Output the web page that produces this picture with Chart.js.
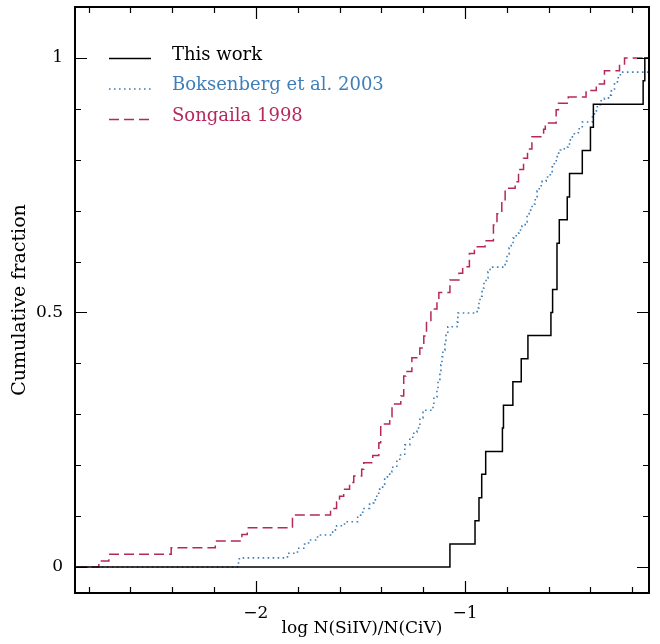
<!DOCTYPE html>
<html lang="en">
<head>
    <meta charset="UTF-8">
    <title>Cumulative fraction of log N(SiIV)/N(CiV)</title>
    <style>
        html, body { margin: 0; padding: 0; background: #fff; }
        #chart-container { width: 660px; height: 644px; }
    </style>
    <script src="https://cdn.jsdelivr.net/npm/chart.js"></script>
</head>
<body>
<div id="chart-container">
    <canvas id="cdfChart" width="660" height="644"></canvas>
</div>
<script>
    // step positions (log N(SiIV)/N(CiV)) and cumulative fraction after each step
    const thisWorkX = [-3, -1.072, -0.952, -0.933, -0.920, -0.901, -0.821, -0.816, -0.771, -0.731, -0.699,
        -0.589, -0.581, -0.560, -0.549, -0.511, -0.500, -0.439, -0.400, -0.386, -0.148, -0.140, 0];
    const thisWorkY = [0, 0.045, 0.091, 0.136, 0.182, 0.227, 0.273, 0.318, 0.364, 0.409, 0.455,
        0.500, 0.545, 0.636, 0.682, 0.727, 0.773, 0.818, 0.864, 0.909, 0.955, 1.000, 1.000];

    const boksenbergX = [-3, -2.089, -2.079, -1.849, -1.801, -1.767, -1.748, -1.705, -1.633, -1.614,
        -1.576, -1.513, -1.489, -1.456, -1.436, -1.422, -1.408, -1.384, -1.360, -1.350,
        -1.326, -1.312, -1.288, -1.264, -1.245, -1.230, -1.216, -1.201, -1.153, -1.149,
        -1.134, -1.129, -1.120, -1.115, -1.110, -1.106, -1.096, -1.091, -1.082, -1.038,
        -1.034, -0.942, -0.933, -0.928, -0.918, -0.909, -0.899, -0.890, -0.880, -0.808,
        -0.799, -0.789, -0.779, -0.770, -0.755, -0.741, -0.727, -0.712, -0.703, -0.693,
        -0.679, -0.664, -0.655, -0.645, -0.631, -0.612, -0.592, -0.583, -0.573, -0.559,
        -0.544, -0.525, -0.506, -0.496, -0.477, -0.458, -0.439, -0.391, -0.381, -0.367,
        -0.353, -0.333, -0.314, -0.300, -0.285, -0.271, -0.257, 0];
    const boksenbergY = [0, 0.008, 0.018, 0.027, 0.037, 0.045, 0.053, 0.063, 0.073, 0.081,
        0.089, 0.102, 0.115, 0.126, 0.132, 0.145, 0.157, 0.177, 0.187, 0.196,
        0.210, 0.220, 0.240, 0.255, 0.265, 0.273, 0.293, 0.308, 0.320, 0.334,
        0.348, 0.367, 0.383, 0.397, 0.413, 0.426, 0.442, 0.458, 0.472, 0.481,
        0.499, 0.509, 0.523, 0.532, 0.548, 0.560, 0.568, 0.580, 0.589, 0.601,
        0.615, 0.627, 0.635, 0.646, 0.656, 0.662, 0.670, 0.678, 0.690, 0.701,
        0.713, 0.725, 0.739, 0.749, 0.758, 0.766, 0.774, 0.786, 0.798, 0.813,
        0.819, 0.825, 0.831, 0.845, 0.853, 0.861, 0.874, 0.884, 0.896, 0.906,
        0.916, 0.921, 0.927, 0.939, 0.949, 0.961, 0.972, 0.972];

    const songailaX = [-3, -2.751, -2.703, -2.405, -2.194, -2.067, -2.041, -1.825, -1.643, -1.614,
        -1.600, -1.580, -1.552, -1.532, -1.494, -1.484, -1.441, -1.412, -1.403, -1.360,
        -1.349, -1.307, -1.293, -1.283, -1.254, -1.216, -1.197, -1.184, -1.163, -1.134,
        -1.125, -1.072, -1.029, -1.011, -0.979, -0.955, -0.904, -0.864, -0.847, -0.824,
        -0.808, -0.760, -0.744, -0.720, -0.701, -0.680, -0.624, -0.616, -0.564, -0.553,
        -0.506, -0.421, -0.372, -0.333, -0.261, -0.237, 0];
    const songailaY = [0, 0.012, 0.025, 0.038, 0.051, 0.064, 0.077, 0.102, 0.115, 0.128,
        0.139, 0.153, 0.166, 0.179, 0.192, 0.205, 0.219, 0.244, 0.281, 0.295,
        0.320, 0.336, 0.375, 0.384, 0.411, 0.430, 0.454, 0.482, 0.507, 0.525,
        0.539, 0.564, 0.577, 0.590, 0.616, 0.629, 0.641, 0.672, 0.694, 0.718,
        0.744, 0.757, 0.781, 0.803, 0.821, 0.845, 0.860, 0.872, 0.898, 0.911,
        0.923, 0.936, 0.949, 0.975, 0.988, 1.000, 1.000];

    const seriesNames = ['This work', 'Boksenberg et al. 2003', 'Songaila 1998'];

    // axis ticks
    const xMajorTicks = [-2, -1];
    const xMinorTicks = [-2.8, -2.6, -2.4, -2.2, -2.0, -1.8, -1.6, -1.4, -1.2, -1.0, -0.8, -0.6, -0.4, -0.2];
    const yMajorTicks = [0, 0.5, 1];
    const yMinorTicks = [0, 0.1, 0.2, 0.3, 0.4, 0.5, 0.6, 0.7, 0.8, 0.9, 1.0];

    const FONT = '"DejaVu Serif", serif';

    function toPoints(xs, ys) {
        return xs.map((x, i) => ({ x: x, y: ys[i] }));
    }

    function fmt(v) {
        return v < 0 ? '\u2212' + Math.abs(v) : String(v);
    }

    // frame with inward ticks on all four sides, plus the legend
    const framePlugin = {
        id: 'frame',
        afterDatasetsDraw(chart) {
            const ctx = chart.ctx;
            const a = chart.chartArea;
            const xs = chart.scales.x, ys = chart.scales.y;
            ctx.save();
            ctx.strokeStyle = '#000';
            ctx.lineWidth = 2;
            ctx.strokeRect(a.left, a.top, a.right - a.left, a.bottom - a.top);
            ctx.lineWidth = 1.2;
            ctx.beginPath();
            xMinorTicks.forEach(v => {
                const px = Math.round(xs.getPixelForValue(v)) + 0.5;
                const len = xMajorTicks.some(m => Math.abs(m - v) < 1e-6) ? 12 : 6;
                ctx.moveTo(px, a.bottom); ctx.lineTo(px, a.bottom - len);
                ctx.moveTo(px, a.top); ctx.lineTo(px, a.top + len);
            });
            yMinorTicks.forEach(v => {
                const py = Math.round(ys.getPixelForValue(v)) + 0.5;
                const len = yMajorTicks.some(m => Math.abs(m - v) < 1e-6) ? 12 : 6;
                ctx.moveTo(a.left, py); ctx.lineTo(a.left + len, py);
                ctx.moveTo(a.right, py); ctx.lineTo(a.right - len, py);
            });
            ctx.stroke();

            // legend
            ctx.font = '18px ' + FONT;
            ctx.textBaseline = 'alphabetic';
            chart.data.datasets.forEach((ds, i) => {
                const y = 58.5 + i * 30.5;
                ctx.beginPath();
                ctx.strokeStyle = ds.borderColor;
                ctx.lineWidth = ds.borderWidth;
                ctx.setLineDash(ds.borderDash || []);
                ctx.moveTo(109, y);
                ctx.lineTo(151, y);
                ctx.stroke();
                ctx.setLineDash([]);
                ctx.fillStyle = ds.borderColor;
                ctx.fillText(ds.label, 172, y + 1);
            });
            ctx.restore();
        }
    };

    const ctx = document.getElementById('cdfChart').getContext('2d');
    const cdfChart = new Chart(ctx, {
        type: 'scatter',
        data: {
            datasets: [
                {
                    label: seriesNames[0],
                    data: toPoints(thisWorkX, thisWorkY),
                    borderColor: '#000000',
                    borderWidth: 1.5,
                    borderDash: [],
                    showLine: true,
                    stepped: true,
                    pointRadius: 0,
                    order: 0
                },
                {
                    label: seriesNames[1],
                    data: toPoints(boksenbergX, boksenbergY),
                    borderColor: '#3f7fb9',
                    borderWidth: 1.6,
                    borderDash: [1.6, 3.4],
                    showLine: true,
                    stepped: true,
                    pointRadius: 0,
                    order: 2
                },
                {
                    label: seriesNames[2],
                    data: toPoints(songailaX, songailaY),
                    borderColor: '#b5285c',
                    borderWidth: 1.5,
                    borderDash: [10, 5],
                    showLine: true,
                    stepped: true,
                    pointRadius: 0,
                    order: 1
                }
            ]
        },
        options: {
            responsive: false,
            maintainAspectRatio: false,
            animation: false,
            layout: { padding: { left: 0, right: 11, top: 7, bottom: 0 } },
            plugins: {
                legend: { display: false },
                tooltip: { enabled: false }
            },
            scales: {
                x: {
                    type: 'linear',
                    min: -2.865,
                    max: -0.12,
                    grid: { display: false },
                    border: { display: false },
                    afterBuildTicks: scale => { scale.ticks = xMajorTicks.map(v => ({ value: v })); },
                    afterFit: scale => {
                        scale.height = 51;
                        scale.paddingLeft = 0;
                        scale.paddingRight = 0;
                    },
                    ticks: {
                        padding: 2,
                        color: '#000',
                        font: { family: FONT, size: 17 },
                        callback: v => fmt(v)
                    },
                    title: {
                        display: true,
                        text: 'log N(SiIV)/N(CiV)',
                        color: '#000',
                        font: { family: FONT, size: 17 },
                        padding: { top: 0, bottom: 5 }
                    }
                },
                y: {
                    type: 'linear',
                    min: -0.051,
                    max: 1.1,
                    grid: { display: false },
                    border: { display: false },
                    afterBuildTicks: scale => { scale.ticks = yMajorTicks.map(v => ({ value: v })); },
                    afterFit: scale => {
                        scale.width = 75;
                        scale.paddingTop = 0;
                        scale.paddingBottom = 0;
                    },
                    ticks: {
                        padding: 4,
                        color: '#000',
                        font: { family: FONT, size: 17 },
                        callback: v => fmt(v)
                    },
                    title: {
                        display: true,
                        text: 'Cumulative fraction',
                        color: '#000',
                        font: { family: FONT, size: 19 },
                        padding: { top: 9, bottom: 0 }
                    }
                }
            }
        },
        plugins: [framePlugin]
    });
</script>
</body>
</html>
